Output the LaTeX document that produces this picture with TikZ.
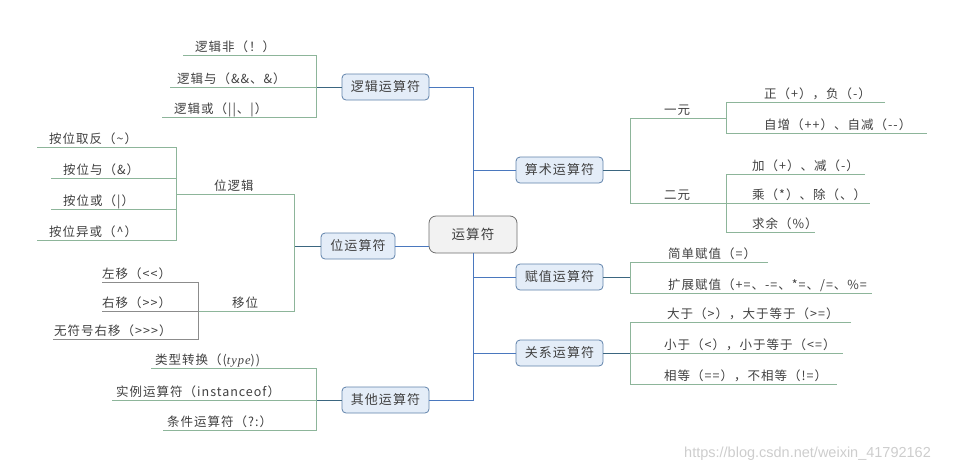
\documentclass[tikz,border=0pt]{standalone}
\usepackage{fontspec}
\setmainfont{Noto Sans CJK SC}[LetterSpace=8]
\newfontfamily\wmfont{Liberation Sans}
\newfontfamily\latinit{Liberation Serif}[LetterSpace=8]
\definecolor{trunkc}{HTML}{4A78BE}
\definecolor{stubc}{HTML}{3B6680}
\definecolor{brc}{HTML}{8DB59A}
\definecolor{grc}{HTML}{8C8C8C}
\definecolor{catfill}{HTML}{E4EDF8}
\definecolor{catdraw}{HTML}{5F82AA}
\definecolor{rootfill}{HTML}{F2F2F2}
\definecolor{rootdraw}{HTML}{6E6E6E}
\definecolor{txt}{HTML}{404040}
\definecolor{wmc}{HTML}{CDCDCD}
\begin{document}
\begin{tikzpicture}[x=1pt,y=-1pt,
 cat/.style={draw=catdraw,fill=catfill,rounded corners=4pt,line width=0.8pt,minimum height=26pt,inner xsep=0pt,font=\fontsize{13}{15}\selectfont,text=txt},
 rootbox/.style={draw=rootdraw,fill=rootfill,rounded corners=7pt,line width=0.8pt,minimum width=88pt,minimum height=37pt,font=\fontsize{13.5}{16}\selectfont,text=txt},
 lf/.style={anchor=base west,inner sep=0pt,font=\fontsize{12.5}{14}\selectfont,text=txt},
 trunk/.style={draw=trunkc,line width=0.9pt},
 stub/.style={draw=stubc,line width=0.8pt},
 br/.style={draw=brc,line width=0.8pt},
 brg/.style={draw=grc,line width=0.8pt}]
\useasboundingbox (0,0) rectangle (965,469);

% ---------- main boxes ----------
\node[rootbox] (root) at (473,234.5) {运算符};
\node[cat,minimum width=87pt] (lj) at (385.5,87) {逻辑运算符};
\node[cat,minimum width=74pt] (wei) at (358,246) {位运算符};
\node[cat,minimum width=87pt] (qt) at (385.5,400) {其他运算符};
\node[cat,minimum width=87pt] (ss) at (559.5,170) {算术运算符};
\node[cat,minimum width=87pt] (fz) at (559.5,277) {赋值运算符};
\node[cat,minimum width=87pt] (gx) at (559.5,353) {关系运算符};

% ---------- trunk ----------
\draw[trunk] (lj.east) -| (root.north);
\draw[trunk] (ss.west) -| (root.north);
\draw[trunk] (qt.east) -| (root.south);
\draw[trunk] (fz.west) -| (root.south);
\draw[trunk] (gx.west) -| (root.south);
\draw[trunk] (wei.east) -- (wei.east -| root.west);

% ---------- logic operators ----------
\coordinate (bL) at (316,87);
\coordinate (bLt) at (316,55);
\coordinate (bLb) at (316,117);
\coordinate (uL1) at (183,55);
\coordinate (uL2) at (170,87);
\coordinate (uL3) at (162,117);
\draw[stub] (lj.west) -- (bL);
\draw[br] (uL1) -- (bLt) -- (bLb) -- (uL3);
\draw[br] (uL2) -- (bL);
\node[lf] (tL1) at (195,51) {逻辑非（！）};
\node[lf] (tL2) at (177,83) {逻辑与（\&\&、\&）};
\node[lf] (tL3) at (174,113) {逻辑或（||、|）};

% ---------- bit operators ----------
\coordinate (bW) at (294,246);
\coordinate (bWt) at (294,194);
\coordinate (bWb) at (294,311);
\coordinate (uW1) at (176,194);
\coordinate (uW2) at (198,311);
\draw[stub] (wei.west) -- (bW);
\draw[br] (uW1) -- (bWt) -- (bWb) -- (uW2);
\node[lf] (tW1) at (214,190) {位逻辑};
\node[lf] (tW2) at (232,307) {移位};

% bit logic
\coordinate (bAt) at (176,147);
\coordinate (bAb) at (176,240);
\coordinate (bA2) at (176,178);
\coordinate (bA3) at (176,209);
\coordinate (uA1) at (37,147);
\coordinate (uA2) at (51,178);
\coordinate (uA3) at (51,209);
\coordinate (uA4) at (37,240);
\draw[br] (uA1) -- (bAt) -- (bAb) -- (uA4);
\draw[br] (uA2) -- (bA2);
\draw[br] (uA3) -- (bA3);
\node[lf] (tA1) at (49,143) {按位取反（\textasciitilde）};
\node[lf] (tA2) at (63,174) {按位与（\&）};
\node[lf] (tA3) at (63,205) {按位或（|）};
\node[lf] (tA4) at (49,236) {按位异或（\textasciicircum）};

% shift
\coordinate (bS) at (198,311);
\coordinate (bSt) at (198,282);
\coordinate (bSb) at (198,339);
\coordinate (uS1) at (102,282);
\coordinate (uS2) at (102,311);
\coordinate (uS3) at (53,339);
\draw[brg] (uS1) -- (bSt) -- (bSb) -- (uS3);
\draw[brg] (uS2) -- (bS);
\node[lf] (tS1) at (102,278) {左移（<{}<）};
\node[lf] (tS2) at (102,307) {右移（>{}>）};
\node[lf] (tS3) at (54,335) {无符号右移（>{}>{}>）};

% ---------- other operators ----------
\coordinate (bQ) at (316,400);
\coordinate (bQt) at (316,368);
\coordinate (bQb) at (316,430);
\coordinate (uQ1) at (151,368);
\coordinate (uQ2) at (112,400);
\coordinate (uQ3) at (163,430);
\draw[stub] (qt.west) -- (bQ);
\draw[br] (uQ1) -- (bQt) -- (bQb) -- (uQ3);
\draw[br] (uQ2) -- (bQ);
\node[lf] (tQ1) at (155,364) {类型转换（({\latinit\itshape type}))};
\node[lf] (tQ2) at (116,396) {实例运算符（instanceof）};
\node[lf] (tQ3) at (167,426) {条件运算符（?:）};

% ---------- arithmetic operators ----------
\coordinate (bR) at (630,170);
\coordinate (bRt) at (630,118);
\coordinate (bRb) at (630,203);
\coordinate (uR1) at (726,118);
\coordinate (uR2) at (726,203);
\draw[stub] (ss.east) -- (bR);
\draw[br] (uR1) -- (bRt) -- (bRb) -- (uR2);
\node[lf] (tR1) at (664,114) {一元};
\node[lf] (tR2) at (664,199) {二元};

% unary
\coordinate (bU1) at (726,102);
\coordinate (bU2) at (726,133);
\coordinate (eU1) at (885,102);
\coordinate (eU2) at (927,133);
\draw[br] (eU1) -- (bU1) -- (bU2) -- (eU2);
\node[lf] (tU1) at (764,98) {正（+），负（-）};
\node[lf] (tU2) at (764,129) {自增（++）、自减（-{}-）};

% binary
\coordinate (bB1) at (726,174);
\coordinate (bB2) at (726,203);
\coordinate (bB3) at (726,232);
\coordinate (eB1) at (865,174);
\coordinate (eB2) at (870,203);
\coordinate (eB3) at (815,232);
\draw[br] (eB1) -- (bB1) -- (bB3) -- (eB3);
\draw[br] (bB2) -- (eB2);
\node[lf] (tB1) at (752,170) {加（+）、减（-）};
\node[lf] (tB2) at (752,199) {乘（*）、除（、）};
\node[lf] (tB3) at (752,228) {求余（\%）};

% ---------- assignment operators ----------
\coordinate (bF) at (630,277);
\coordinate (bFt) at (630,262);
\coordinate (bFb) at (630,293);
\coordinate (eF1) at (768,262);
\coordinate (eF2) at (872,293);
\draw[stub] (fz.east) -- (bF);
\draw[br] (eF1) -- (bFt) -- (bFb) -- (eF2);
\node[lf] (tF1) at (668,258) {简单赋值（=）};
\node[lf] (tF2) at (668,289) {扩展赋值（+=、-=、*=、/=、\%=};

% ---------- relational operators ----------
\coordinate (bG) at (630,353);
\coordinate (bGt) at (630,322);
\coordinate (bGb) at (630,384);
\coordinate (eG1) at (851,322);
\coordinate (eG2) at (843,353);
\coordinate (eG3) at (837,384);
\draw[stub] (gx.east) -- (bG);
\draw[br] (eG1) -- (bGt) -- (bGb) -- (eG3);
\draw[br] (bG) -- (eG2);
\node[lf] (tG1) at (667,318) {大于（>），大于等于（>=）};
\node[lf] (tG2) at (664,349) {小于（<），小于等于（<=）};
\node[lf] (tG3) at (664,380) {相等（==），不相等（!=）};

% ---------- watermark ----------
\node[anchor=base west,inner sep=0pt,text=wmc,font=\wmfont\fontsize{14.5}{16}\selectfont] (wm) at (684,457) {https://blog.csdn.net/weixin\_41792162};
\end{tikzpicture}
\end{document}
